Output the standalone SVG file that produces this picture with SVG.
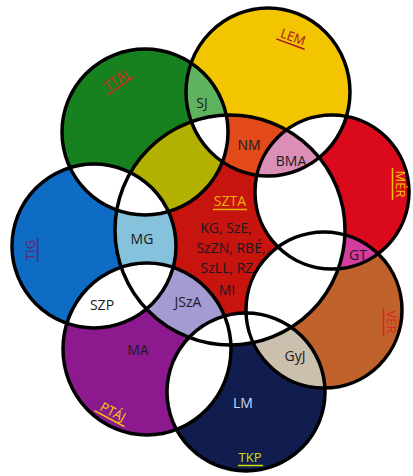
<svg xmlns="http://www.w3.org/2000/svg" width="413" height="476" viewBox="0 0 413 476">
<style>
text{font-family:"Open Sans","Liberation Sans",sans-serif;font-size:14px;text-anchor:middle;fill:#1a1a22}
.ol{fill:none;stroke:#000;stroke-width:3.5}
.t{font-size:13px}
.u{stroke-width:1.5}
</style>
<defs>
<circle id="s-green" cx="145" cy="132" r="83"/>
<ellipse id="s-yellow" cx="268" cy="92" rx="82" ry="84"/>
<circle id="s-mer" cx="332" cy="192" r="77"/>
<circle id="s-ver" cx="324" cy="310" r="78"/>
<circle id="s-tkp" cx="246" cy="392" r="79"/>
<ellipse id="s-ptaj" cx="147" cy="349" rx="84" ry="86"/>
<circle id="s-tig" cx="94" cy="246" r="82"/>
<circle id="s-center" cx="230" cy="230" r="115"/>
<clipPath id="k-green"><circle cx="145" cy="132" r="83"/></clipPath>
<clipPath id="k-mer"><circle cx="332" cy="192" r="77"/></clipPath>
<clipPath id="k-tkp"><circle cx="246" cy="392" r="79"/></clipPath>
<clipPath id="k-tig"><circle cx="94" cy="246" r="82"/></clipPath>
<clipPath id="k-center"><circle cx="230" cy="230" r="115"/></clipPath>
</defs>
<rect width="413" height="476" fill="#fff"/>
<g id="ttaj"><use href="#s-green" fill="#17801f"/></g>
<g id="lem"><use href="#s-yellow" fill="#f3c400"/></g>
<g id="mer"><use href="#s-mer" fill="#da0a1c"/></g>
<g id="ver"><use href="#s-ver" fill="#c0622c"/></g>
<g id="tkp"><use href="#s-tkp" fill="#101d4e"/></g>
<g id="ptaj"><use href="#s-ptaj" fill="#8c1a8e"/></g>
<g id="tig"><use href="#s-tig" fill="#0f6cc4"/></g>
<g id="szta"><use href="#s-center" fill="#c8140f"/></g>
<g id="overlaps">
 <g clip-path="url(#k-center)">
  <use href="#s-green" fill="#b2b000"/>
  <use href="#s-yellow" fill="#e24a1a"/>
  <use href="#s-mer" fill="#fff"/>
  <use href="#s-ver" fill="#fff"/>
  <use href="#s-tkp" fill="#fff"/>
  <use href="#s-ptaj" fill="#a59bd3"/>
  <use href="#s-tig" fill="#86c2dc"/>
 </g>
 <g clip-path="url(#k-green)"><use href="#s-yellow" fill="#5fb35f"/><use href="#s-tig" fill="#fff"/></g>
 <g clip-path="url(#k-mer)"><use href="#s-yellow" fill="#fff"/><use href="#s-ver" fill="#d43c9e"/></g>
 <g clip-path="url(#k-tkp)"><use href="#s-ver" fill="#cbbfae"/><use href="#s-ptaj" fill="#fff"/></g>
 <g clip-path="url(#k-tig)"><use href="#s-ptaj" fill="#fff"/></g>
 <g clip-path="url(#k-center)">
  <g clip-path="url(#k-green)"><use href="#s-yellow" fill="#fff"/><use href="#s-tig" fill="#fff"/></g>
  <g clip-path="url(#k-mer)"><use href="#s-yellow" fill="#db8fb6"/><use href="#s-ver" fill="#fff"/></g>
  <g clip-path="url(#k-tkp)"><use href="#s-ver" fill="#fff"/><use href="#s-ptaj" fill="#fff"/></g>
  <g clip-path="url(#k-tig)"><use href="#s-ptaj" fill="#fff"/></g>
 </g>
</g>
<g id="outlines">
 <use href="#s-green" class="ol"/>
 <use href="#s-yellow" class="ol"/>
 <use href="#s-mer" class="ol"/>
 <use href="#s-ver" class="ol"/>
 <use href="#s-tkp" class="ol"/>
 <use href="#s-ptaj" class="ol"/>
 <use href="#s-tig" class="ol"/>
 <use href="#s-center" class="ol"/>
</g>
<g id="labels">
 <g transform="translate(116,80) rotate(-35)"><text class="t" y="4.5" style="fill:#d42a1e">TTÁJ</text><line class="u" x1="-16" y1="7.5" x2="16" y2="7.5" stroke="#d42a1e"/></g>
 <g transform="translate(293,37) rotate(20)"><text class="t" y="4.5" style="fill:#a8141c">LEM</text><line class="u" x1="-15" y1="7.5" x2="15" y2="7.5" stroke="#a8141c"/></g>
 <g transform="translate(400,184) rotate(90)"><text class="t" y="4.5" style="fill:#f0c000">MÉR</text><line class="u" x1="-16" y1="7.5" x2="16" y2="7.5" stroke="#f0c000"/></g>
 <g transform="translate(391,322) rotate(90)"><text class="t" y="4.5" style="fill:#e02222">VER</text><line class="u" x1="-14" y1="7.5" x2="14" y2="7.5" stroke="#e02222"/></g>
 <g transform="translate(30,250) rotate(-90)"><text class="t" y="4.5" style="fill:#6b1d5c">TIG</text><line class="u" x1="-12" y1="7.5" x2="12" y2="7.5" stroke="#6b1d5c"/></g>
 <g transform="translate(113,412) rotate(28)"><text class="t" y="4.5" style="fill:#f5d000">PTÁJ</text><line class="u" x1="-17" y1="7.5" x2="17" y2="7.5" stroke="#f5d000"/></g>
 <text class="t" x="250" y="462" style="fill:#d6e000">TKP</text><line class="u" x1="238" y1="465.5" x2="263" y2="465.5" stroke="#d6e000"/>
 <text x="230" y="206" style="fill:#f0b000">SZTA</text><line class="u" x1="213" y1="209.5" x2="247" y2="209.5" stroke="#f0b000"/>
 <text x="226" y="233">KG, SzE,</text>
 <text x="231" y="253">SzZN, RBÉ,</text>
 <text x="227" y="273">SzLL, RZ</text>
 <text x="227" y="295">MI</text>
 <text x="249" y="150">NM</text>
 <text x="291" y="166">BMA</text>
 <text x="202" y="108">SJ</text>
 <text x="142" y="244">MG</text>
 <text x="102" y="310">SZP</text>
 <text x="188" y="307">JSzA</text>
 <text x="138" y="355">MA</text>
 <text x="358" y="260">GT</text>
 <text x="295" y="361">GyJ</text>
 <text x="243" y="408" style="fill:#c8dcf5">LM</text>
</g>
</svg>
